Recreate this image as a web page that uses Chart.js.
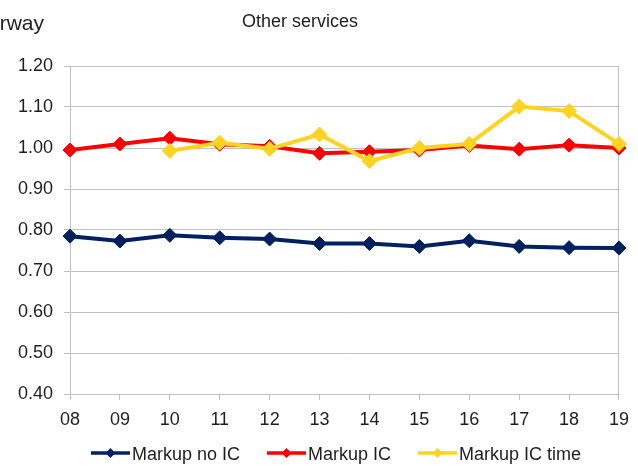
<!DOCTYPE html>
<html>
<head>
<meta charset="utf-8">
<script src="https://cdn.jsdelivr.net/npm/chart.js@4/dist/chart.umd.min.js"></script>
<style>
  html, body { margin: 0; padding: 0; background: #ffffff; }
  #wrap { width: 638px; height: 466px; position: relative; }
</style>
</head>
<body>
<div id="wrap"><canvas id="c" width="638" height="466"></canvas></div>
<script>
// Years (two-digit) on the category axis
const years = ['08', '09', '10', '11', '12', '13', '14', '15', '16', '17', '18', '19'];

// Markup ratios, Other services
const markupNoIC = [0.785, 0.773, 0.787, 0.781, 0.778, 0.767, 0.767, 0.760, 0.774, 0.760, 0.757, 0.756];
const markupIC = [0.995, 1.010, 1.024, 1.009, 1.004, 0.987, 0.991, 0.995, 1.006, 0.997, 1.007, 1.000];
const markupICTime = [null, null, 0.993, 1.013, 0.998, 1.033, 0.968, 1.000, 1.010, 1.101, 1.090, 1.010];

const seriesNames = ['Markup no IC', 'Markup IC', 'Markup IC time'];
const seriesColors = ['#002060', '#ff0000', '#ffd320'];

const FONT = '"Liberation Sans", Arial, sans-serif';
const TEXT = '#1e1e1e';
const GRID = '#c0c0c0';

// later series are painted over earlier ones
function lineSet(label, data, color, r, order) {
  return {
    label: label,
    data: data,
    order: order,
    borderColor: color,
    backgroundColor: color,
    borderWidth: 4,
    pointStyle: 'rectRot',
    pointRadius: r,
    pointHoverRadius: r,
    pointBorderWidth: 1,
    tension: 0,
    spanGaps: false
  };
}

// Headings and legend drawn straight onto the canvas
const decor = {
  id: 'decor',
  afterDraw(chart) {
    const ctx = chart.ctx;
    ctx.save();
    ctx.fillStyle = TEXT;
    ctx.textBaseline = 'alphabetic';

    ctx.font = '21px ' + FONT;
    ctx.textAlign = 'right';
    ctx.fillText('Norway', 44, 30);

    ctx.font = '18px ' + FONT;
    ctx.textAlign = 'left';
    ctx.fillText('Other services', 242, 27);

    // legend row
    const lineLen = 39, textGap = 2, itemGap = 27, cy = 453;
    ctx.font = '18px ' + FONT;
    const widths = seriesNames.map(n => ctx.measureText(n).width);
    const total = widths.reduce((s, w) => s + lineLen + textGap + w, 0) + itemGap * (seriesNames.length - 1);
    let x = 336 - total / 2;
    seriesNames.forEach((name, i) => {
      ctx.strokeStyle = seriesColors[i];
      ctx.fillStyle = seriesColors[i];
      ctx.lineWidth = 3.5;
      ctx.beginPath();
      ctx.moveTo(x, cy);
      ctx.lineTo(x + lineLen, cy);
      ctx.stroke();
      const mx = x + lineLen / 2, r = 5;
      ctx.beginPath();
      ctx.moveTo(mx, cy - r);
      ctx.lineTo(mx + r, cy);
      ctx.lineTo(mx, cy + r);
      ctx.lineTo(mx - r, cy);
      ctx.closePath();
      ctx.fill();
      ctx.fillStyle = TEXT;
      ctx.textAlign = 'left';
      ctx.textBaseline = 'middle';
      ctx.fillText(name, x + lineLen + textGap, cy + 2);
      x += lineLen + textGap + widths[i] + itemGap;
    });
    ctx.restore();
  }
};

new Chart(document.getElementById('c'), {
  type: 'line',
  data: {
    labels: years,
    datasets: [
      lineSet(seriesNames[0], markupNoIC, seriesColors[0], 7, 2),
      lineSet(seriesNames[1], markupIC, seriesColors[1], 7, 1),
      lineSet(seriesNames[2], markupICTime, seriesColors[2], 7.5, 0)
    ]
  },
  options: {
    responsive: false,
    animation: false,
    events: [],
    layout: { padding: { top: 66, right: 12, left: 0, bottom: 0 } },
    plugins: {
      legend: { display: false },
      title: { display: false },
      tooltip: { enabled: false }
    },
    scales: {
      x: {
        offset: false,
        grid: {
          drawOnChartArea: true,
          color: c => (c.index === years.length - 1 ? GRID : 'rgba(0,0,0,0)'),
          tickColor: GRID,
          tickLength: 6,
          lineWidth: 1
        },
        border: { display: true, color: GRID },
        ticks: {
          color: TEXT,
          font: { family: FONT, size: 18 },
          padding: 9,
          maxRotation: 0,
          autoSkip: false
        },
        afterFit(scale) { scale.height = 72; }
      },
      y: {
        min: 0.4,
        max: 1.2,
        grid: { color: GRID, tickColor: GRID, tickLength: 6, lineWidth: 1 },
        border: { display: true, color: GRID },
        ticks: {
          stepSize: 0.1,
          color: TEXT,
          font: { family: FONT, size: 18 },
          padding: 11,
          callback: v => Number(v).toFixed(2)
        },
        afterFit(scale) { scale.width = 70; }
      }
    }
  },
  plugins: [decor]
});
</script>
</body>
</html>
